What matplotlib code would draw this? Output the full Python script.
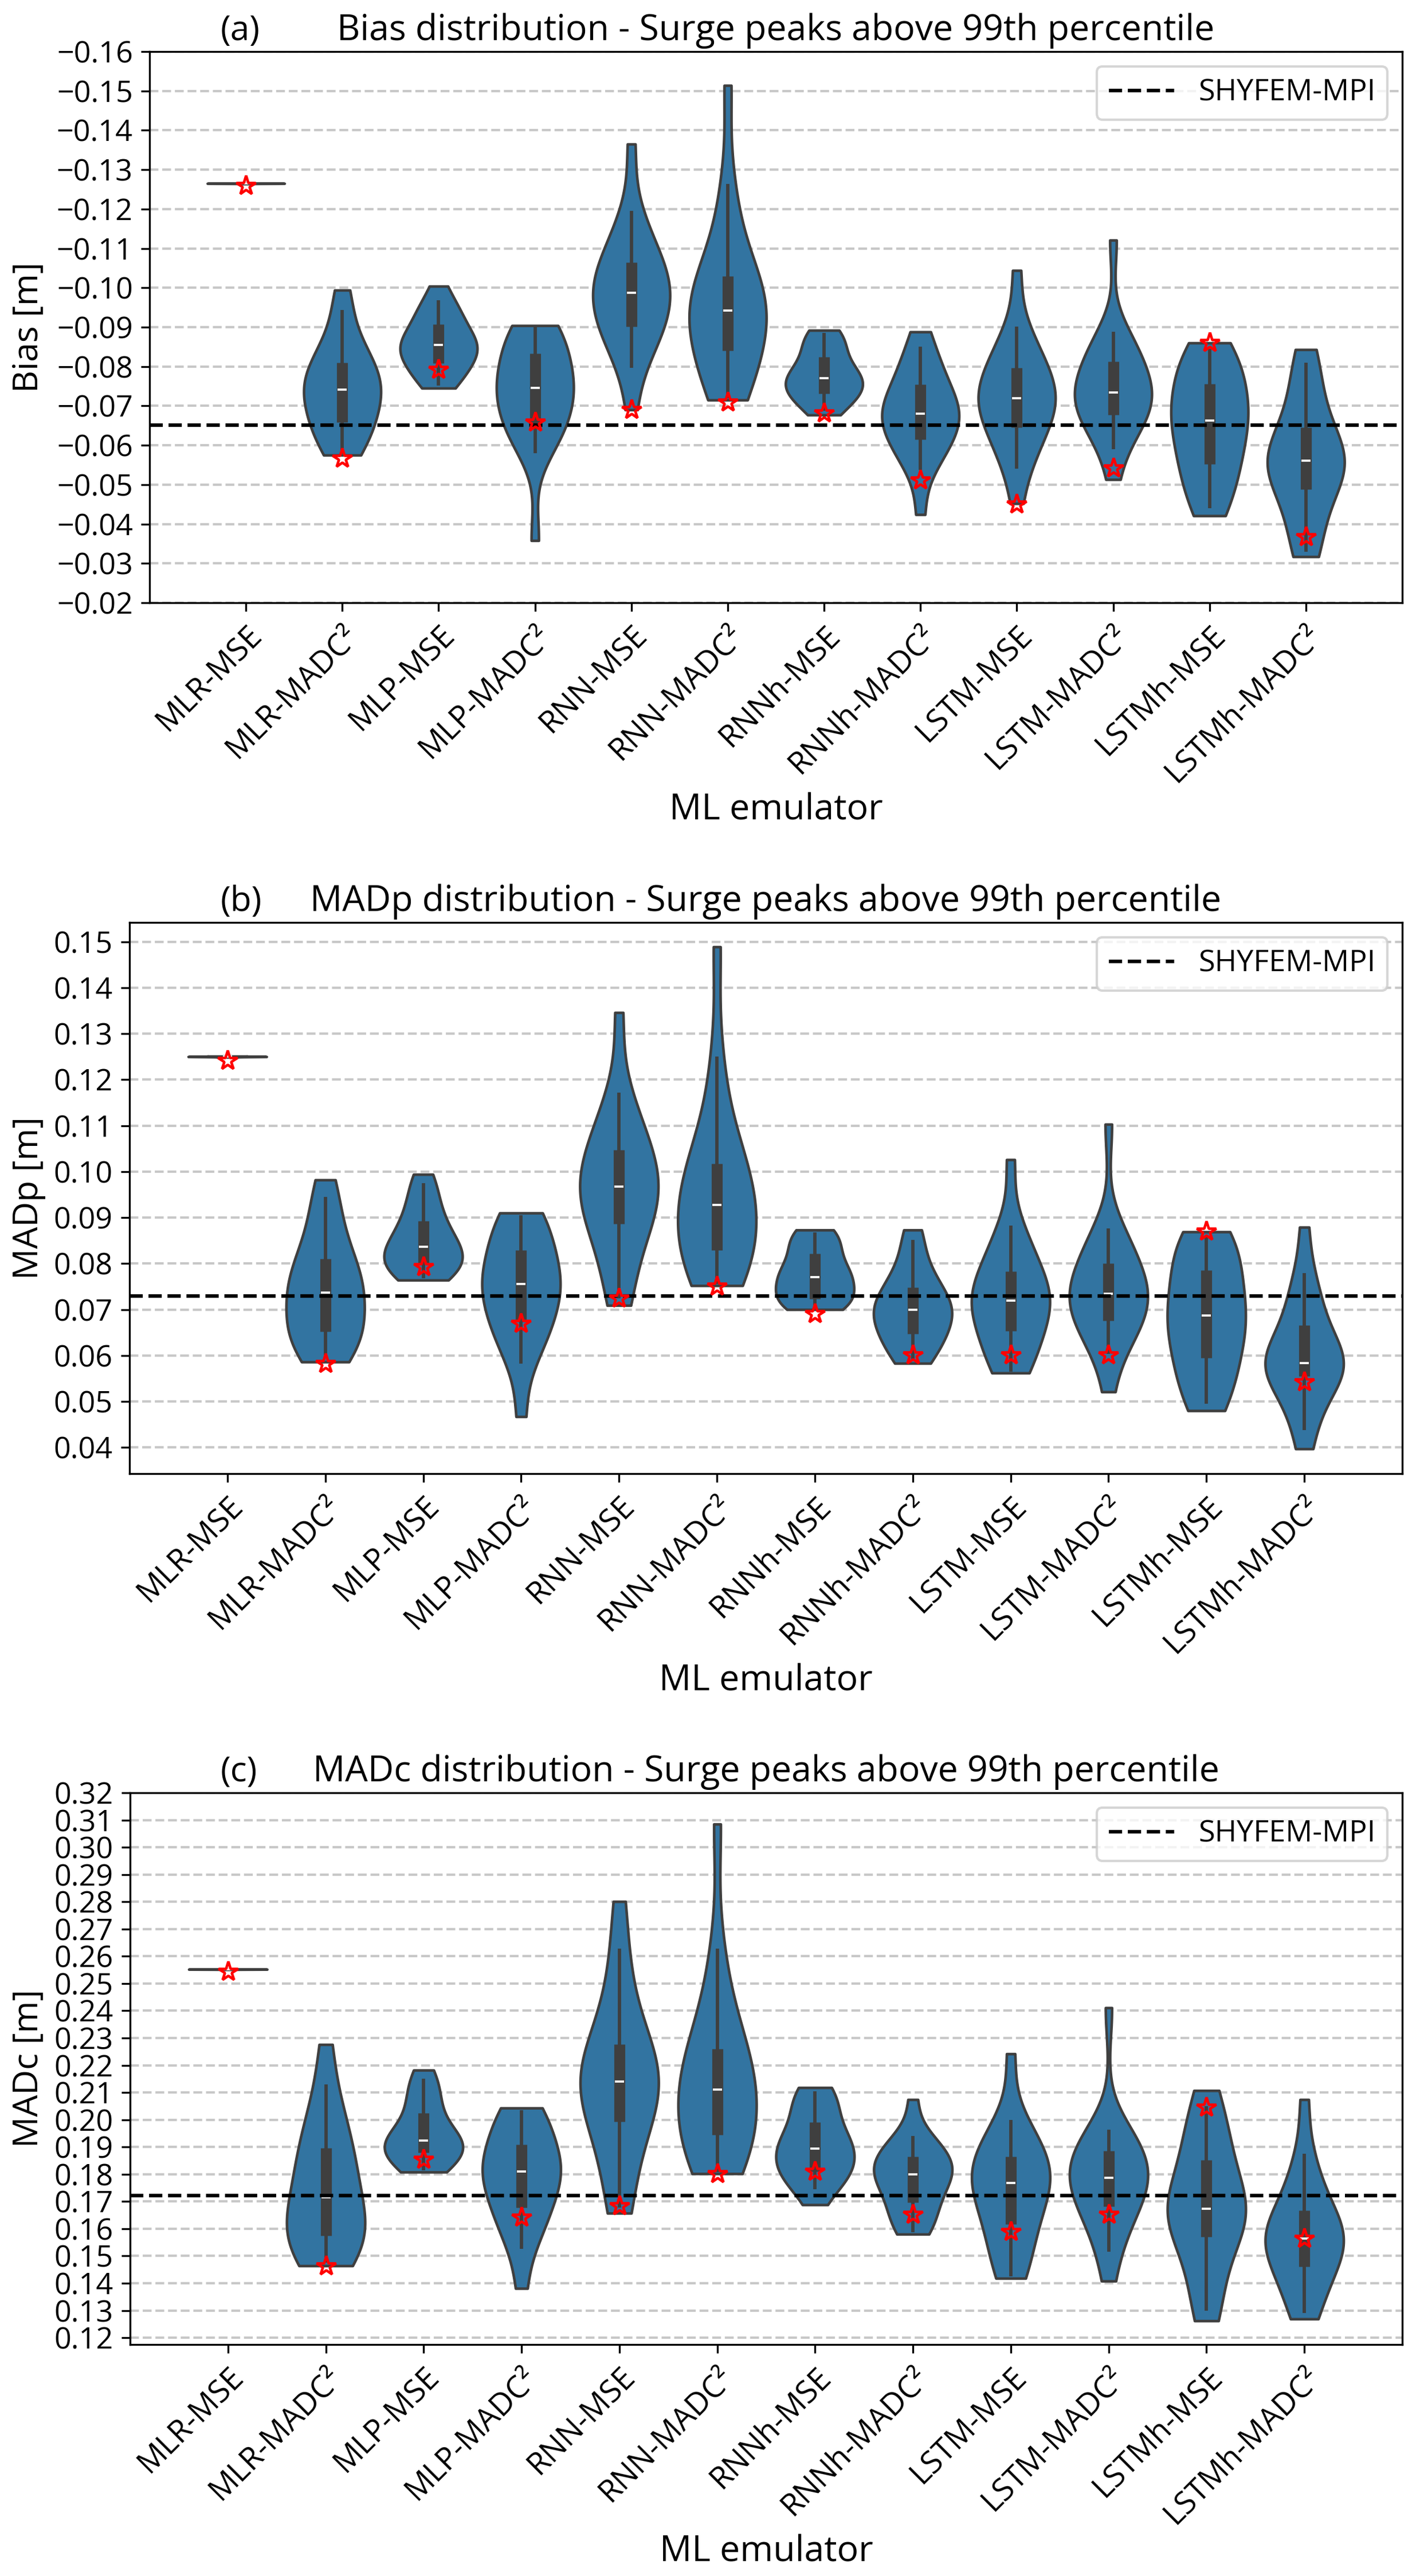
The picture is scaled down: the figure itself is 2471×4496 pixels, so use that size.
import numpy as np
import matplotlib
matplotlib.use('Agg')
import matplotlib.pyplot as plt
from matplotlib.ticker import FixedLocator, FuncFormatter

plt.rcParams['font.family'] = ['Open Sans', 'DejaVu Sans']

# ---------------- data ----------------
emulators = ['MLR-MSE', 'MLR-MADC²', 'MLP-MSE', 'MLP-MADC²', 'RNN-MSE', 'RNN-MADC²',
             'RNNh-MSE', 'RNNh-MADC²', 'LSTM-MSE', 'LSTM-MADC²', 'LSTMh-MSE', 'LSTMh-MADC²']

# (a) Bias [m] samples per emulator
bias_mlr_mse = [-0.1264, -0.1264, -0.1264, -0.1265, -0.1265, -0.1265, -0.1265, -0.1265, -0.1265, -0.1265, -0.1265,
                -0.1265, -0.1265, -0.1265, -0.1265, -0.1265, -0.1265, -0.1265, -0.1266, -0.1266, -0.1266]
bias_mlr_madc = [-0.0575, -0.0578, -0.0610, -0.0635, -0.0650, -0.0659, -0.0680, -0.0700, -0.0715, -0.0730, -0.0742,
                 -0.0752, -0.0765, -0.0778, -0.0792, -0.0810, -0.0830, -0.0850, -0.0880, -0.0943, -0.0994]
bias_mlp_mse = [-0.0745, -0.0752, -0.0772, -0.0788, -0.0800, -0.0808, -0.0820, -0.0830, -0.0838, -0.0846, -0.0855,
                -0.0862, -0.0869, -0.0877, -0.0890, -0.0908, -0.0920, -0.0935, -0.0950, -0.0968, -0.1004]
bias_mlp_madc = [-0.0358, -0.0580, -0.0610, -0.0630, -0.0645, -0.0657, -0.0680, -0.0700, -0.0720, -0.0735, -0.0746,
                 -0.0758, -0.0770, -0.0782, -0.0800, -0.0833, -0.0855, -0.0870, -0.0885, -0.0900, -0.0904]
bias_rnn_mse = [-0.0690, -0.0797, -0.0840, -0.0865, -0.0885, -0.0902, -0.0920, -0.0940, -0.0955, -0.0970, -0.0988,
                -0.1000, -0.1015, -0.1030, -0.1045, -0.1065, -0.1085, -0.1110, -0.1150, -0.1195, -0.1365]
bias_rnn_madc = [-0.0715, -0.0720, -0.0750, -0.0790, -0.0815, -0.0841, -0.0865, -0.0885, -0.0905, -0.0925, -0.0942,
                 -0.0958, -0.0972, -0.0990, -0.1008, -0.1029, -0.1060, -0.1100, -0.1180, -0.1264, -0.1514]
bias_rnnh_mse = [-0.0677, -0.0688, -0.0708, -0.0717, -0.0725, -0.0731, -0.0740, -0.0750, -0.0758, -0.0764, -0.0770,
                 -0.0776, -0.0784, -0.0795, -0.0808, -0.0824, -0.0840, -0.0855, -0.0870, -0.0885, -0.0892]
bias_rnnh_madc = [-0.0424, -0.0537, -0.0565, -0.0585, -0.0600, -0.0615, -0.0635, -0.0650, -0.0662, -0.0672, -0.0680,
                  -0.0690, -0.0700, -0.0712, -0.0730, -0.0754, -0.0770, -0.0790, -0.0815, -0.0850, -0.0888]
bias_lstm_mse = [-0.0452, -0.0541, -0.0575, -0.0600, -0.0625, -0.0645, -0.0665, -0.0685, -0.0700, -0.0710, -0.0719,
                 -0.0728, -0.0740, -0.0755, -0.0775, -0.0796, -0.0815, -0.0835, -0.0860, -0.0902, -0.1044]
bias_lstm_madc = [-0.0513, -0.0590, -0.0625, -0.0645, -0.0662, -0.0677, -0.0690, -0.0703, -0.0714, -0.0724, -0.0734,
                  -0.0745, -0.0758, -0.0772, -0.0790, -0.0812, -0.0830, -0.0848, -0.0865, -0.0889, -0.1121]
bias_lstmh_mse = [-0.0421, -0.0440, -0.0480, -0.0510, -0.0535, -0.0552, -0.0580, -0.0605, -0.0625, -0.0645, -0.0663,
                  -0.0680, -0.0695, -0.0712, -0.0735, -0.0756, -0.0778, -0.0800, -0.0822, -0.0845, -0.0860]
bias_lstmh_madc = [-0.0317, -0.0330, -0.0375, -0.0420, -0.0460, -0.0488, -0.0510, -0.0528, -0.0542, -0.0552, -0.0561,
                   -0.0570, -0.0580, -0.0592, -0.0615, -0.0646, -0.0680, -0.0715, -0.0760, -0.0810, -0.0843]
bias_best = [-0.1259, -0.0567, -0.0792, -0.0659, -0.0690, -0.0710, -0.0682, -0.0511, -0.0450, -0.0542, -0.0861, -0.0368]
bias_shyfem = -0.0651

# (b) MADp [m]
madp_mlr_mse = [0.1249, 0.1249, 0.1249, 0.1250, 0.1250, 0.1250, 0.1250, 0.1250, 0.1250, 0.1250, 0.1250,
                0.1250, 0.1250, 0.1250, 0.1250, 0.1251, 0.1251, 0.1251, 0.1251, 0.1251, 0.1251]
madp_mlr_madc = [0.0586, 0.0595, 0.0615, 0.0630, 0.0642, 0.0652, 0.0668, 0.0685, 0.0705, 0.0722, 0.0737,
                 0.0750, 0.0762, 0.0775, 0.0792, 0.0810, 0.0835, 0.0865, 0.0900, 0.0945, 0.0982]
madp_mlp_mse = [0.0764, 0.0768, 0.0778, 0.0786, 0.0793, 0.0799, 0.0806, 0.0814, 0.0821, 0.0829, 0.0837,
                0.0845, 0.0855, 0.0866, 0.0879, 0.0893, 0.0910, 0.0928, 0.0948, 0.0975, 0.0994]
madp_mlp_madc = [0.0467, 0.0582, 0.0615, 0.0638, 0.0658, 0.0673, 0.0692, 0.0710, 0.0728, 0.0742, 0.0755,
                 0.0766, 0.0776, 0.0786, 0.0805, 0.0829, 0.0850, 0.0870, 0.0890, 0.0905, 0.0910]
madp_rnn_mse = [0.0709, 0.0724, 0.0790, 0.0830, 0.0862, 0.0887, 0.0905, 0.0920, 0.0935, 0.0950, 0.0967,
                0.0980, 0.0995, 0.1010, 0.1028, 0.1047, 0.1070, 0.1095, 0.1130, 0.1172, 0.1346]
madp_rnn_madc = [0.0752, 0.0755, 0.0775, 0.0795, 0.0812, 0.0829, 0.0850, 0.0868, 0.0885, 0.0905, 0.0927,
                 0.0945, 0.0962, 0.0980, 0.0998, 0.1017, 0.1045, 0.1085, 0.1150, 0.1250, 0.1489]
madp_rnnh_mse = [0.0700, 0.0704, 0.0710, 0.0716, 0.0720, 0.0723, 0.0735, 0.0748, 0.0758, 0.0765, 0.0771,
                 0.0777, 0.0784, 0.0793, 0.0806, 0.0821, 0.0835, 0.0848, 0.0858, 0.0868, 0.0873]
madp_rnnh_madc = [0.0583, 0.0590, 0.0610, 0.0625, 0.0637, 0.0647, 0.0660, 0.0672, 0.0683, 0.0692, 0.0699,
                  0.0706, 0.0713, 0.0722, 0.0733, 0.0748, 0.0765, 0.0782, 0.0805, 0.0851, 0.0873]
madp_lstm_mse = [0.0562, 0.0565, 0.0590, 0.0610, 0.0632, 0.0653, 0.0670, 0.0685, 0.0698, 0.0710, 0.0720,
                 0.0730, 0.0740, 0.0752, 0.0767, 0.0783, 0.0805, 0.0830, 0.0855, 0.0883, 0.1026]
madp_lstm_madc = [0.0521, 0.0603, 0.0630, 0.0648, 0.0663, 0.0676, 0.0690, 0.0704, 0.0716, 0.0726, 0.0734,
                  0.0743, 0.0752, 0.0762, 0.0778, 0.0801, 0.0820, 0.0838, 0.0855, 0.0876, 0.1103]
madp_lstmh_mse = [0.0480, 0.0495, 0.0520, 0.0550, 0.0575, 0.0595, 0.0615, 0.0635, 0.0655, 0.0672, 0.0687,
                  0.0702, 0.0718, 0.0735, 0.0760, 0.0785, 0.0805, 0.0825, 0.0845, 0.0862, 0.0869]
madp_lstmh_madc = [0.0397, 0.0438, 0.0480, 0.0510, 0.0535, 0.0555, 0.0565, 0.0572, 0.0577, 0.0581, 0.0584,
                   0.0590, 0.0600, 0.0615, 0.0638, 0.0666, 0.0690, 0.0715, 0.0745, 0.0779, 0.0879]
madp_best = [0.1242, 0.0582, 0.0793, 0.0670, 0.0724, 0.0750, 0.0691, 0.0601, 0.0601, 0.0601, 0.0870, 0.0542]
madp_shyfem = 0.0729

# (c) MADc [m]
madc_mlr_mse = [0.2551, 0.2551, 0.2551, 0.2552, 0.2552, 0.2552, 0.2552, 0.2552, 0.2552, 0.2552, 0.2552,
                0.2552, 0.2552, 0.2552, 0.2552, 0.2552, 0.2552, 0.2552, 0.2553, 0.2553, 0.2553]
madc_mlr_madc = [0.1464, 0.1475, 0.1505, 0.1530, 0.1555, 0.1574, 0.1598, 0.1620, 0.1645, 0.1675, 0.1715,
                 0.1750, 0.1785, 0.1820, 0.1860, 0.1896, 0.1935, 0.1980, 0.2040, 0.2130, 0.2276]
madc_mlp_mse = [0.1808, 0.1815, 0.1830, 0.1845, 0.1862, 0.1880, 0.1890, 0.1898, 0.1905, 0.1914, 0.1923,
                0.1935, 0.1950, 0.1968, 0.1995, 0.2024, 0.2055, 0.2085, 0.2115, 0.2150, 0.2182]
madc_mlp_madc = [0.1381, 0.1526, 0.1575, 0.1615, 0.1650, 0.1678, 0.1708, 0.1735, 0.1760, 0.1788, 0.1809,
                 0.1825, 0.1840, 0.1852, 0.1875, 0.1908, 0.1945, 0.1980, 0.2010, 0.2035, 0.2043]
madc_rnn_mse = [0.1657, 0.1678, 0.1800, 0.1880, 0.1945, 0.1993, 0.2030, 0.2065, 0.2095, 0.2120, 0.2141,
                0.2160, 0.2182, 0.2205, 0.2240, 0.2276, 0.2330, 0.2400, 0.2500, 0.2629, 0.2801]
madc_rnn_madc = [0.1802, 0.1808, 0.1840, 0.1880, 0.1915, 0.1944, 0.1975, 0.2005, 0.2035, 0.2070, 0.2111,
                 0.2140, 0.2170, 0.2200, 0.2230, 0.2259, 0.2310, 0.2380, 0.2480, 0.2629, 0.3085]
madc_rnnh_mse = [0.1688, 0.1745, 0.1770, 0.1785, 0.1798, 0.1811, 0.1830, 0.1850, 0.1866, 0.1880, 0.1894,
                 0.1908, 0.1922, 0.1940, 0.1962, 0.1991, 0.2025, 0.2055, 0.2080, 0.2105, 0.2118]
madc_rnnh_madc = [0.1580, 0.1588, 0.1620, 0.1650, 0.1675, 0.1696, 0.1725, 0.1750, 0.1770, 0.1787, 0.1800,
                  0.1810, 0.1820, 0.1832, 0.1847, 0.1865, 0.1885, 0.1903, 0.1920, 0.1941, 0.2074]
madc_lstm_mse = [0.1418, 0.1425, 0.1490, 0.1540, 0.1585, 0.1616, 0.1650, 0.1690, 0.1720, 0.1748, 0.1767,
                 0.1782, 0.1800, 0.1818, 0.1840, 0.1865, 0.1892, 0.1920, 0.1955, 0.1999, 0.2242]
madc_lstm_madc = [0.1408, 0.1516, 0.1575, 0.1620, 0.1655, 0.1682, 0.1710, 0.1735, 0.1755, 0.1772, 0.1786,
                  0.1800, 0.1815, 0.1830, 0.1855, 0.1885, 0.1905, 0.1925, 0.1945, 0.1964, 0.2411]
madc_lstmh_mse = [0.1262, 0.1300, 0.1380, 0.1450, 0.1520, 0.1570, 0.1600, 0.1625, 0.1645, 0.1660, 0.1673,
                  0.1690, 0.1715, 0.1745, 0.1800, 0.1852, 0.1890, 0.1930, 0.1985, 0.2050, 0.2107]
madc_lstmh_madc = [0.1269, 0.1290, 0.1350, 0.1400, 0.1435, 0.1460, 0.1490, 0.1515, 0.1535, 0.1550, 0.1565,
                   0.1580, 0.1595, 0.1610, 0.1635, 0.1667, 0.1705, 0.1750, 0.1810, 0.1875, 0.2074]
madc_best = [0.2544, 0.1464, 0.1854, 0.1642, 0.1684, 0.1802, 0.1811, 0.1653, 0.1590, 0.1653, 0.2045, 0.1564]
madc_shyfem = 0.1722

bias_ticks = [-0.16, -0.15, -0.14, -0.13, -0.12, -0.11, -0.10, -0.09, -0.08, -0.07, -0.06, -0.05, -0.04, -0.03, -0.02]
madp_ticks = [0.04, 0.05, 0.06, 0.07, 0.08, 0.09, 0.10, 0.11, 0.12, 0.13, 0.14, 0.15]
madc_ticks = [0.12, 0.13, 0.14, 0.15, 0.16, 0.17, 0.18, 0.19, 0.20, 0.21, 0.22, 0.23, 0.24, 0.25, 0.26,
              0.27, 0.28, 0.29, 0.30, 0.31, 0.32]

panels = [
    dict(letter='(a)', title='Bias distribution - Surge peaks above 99th percentile', ylabel='Bias [m]',
         samples=[bias_mlr_mse, bias_mlr_madc, bias_mlp_mse, bias_mlp_madc, bias_rnn_mse, bias_rnn_madc,
                  bias_rnnh_mse, bias_rnnh_madc, bias_lstm_mse, bias_lstm_madc, bias_lstmh_mse, bias_lstmh_madc],
         best=bias_best, ref=bias_shyfem, ticks=bias_ticks, ylim=(-0.02, -0.16),
         px=(261, 2447, 90, 1052)),
    dict(letter='(b)', title='MADp distribution - Surge peaks above 99th percentile', ylabel='MADp [m]',
         samples=[madp_mlr_mse, madp_mlr_madc, madp_mlp_mse, madp_mlp_madc, madp_rnn_mse, madp_rnn_madc,
                  madp_rnnh_mse, madp_rnnh_madc, madp_lstm_mse, madp_lstm_madc, madp_lstmh_mse, madp_lstmh_madc],
         best=madp_best, ref=madp_shyfem, ticks=madp_ticks, ylim=(0.0343, 0.1542),
         px=(226, 2447, 1610, 2572)),
    dict(letter='(c)', title='MADc distribution - Surge peaks above 99th percentile', ylabel='MADc [m]',
         samples=[madc_mlr_mse, madc_mlr_madc, madc_mlp_mse, madc_mlp_madc, madc_rnn_mse, madc_rnn_madc,
                  madc_rnnh_mse, madc_rnnh_madc, madc_lstm_mse, madc_lstm_madc, madc_lstmh_mse, madc_lstmh_madc],
         best=madc_best, ref=madc_shyfem, ticks=madc_ticks, ylim=(0.1175, 0.3200),
         px=(227, 2447, 3129, 4092)),
]

# ---------------- figure ----------------
W, H, DPI = 2471, 4496, 300
fig = plt.figure(figsize=(W / DPI, H / DPI), dpi=DPI)
fig.patch.set_facecolor('white')

VIOLIN = '#3274a1'
EDGE = '#3f3f3f'
fmt = FuncFormatter(lambda v, p: f'{v:.2f}'.replace('-', '\u2212'))

for P in panels:
    l, r, t, b = P['px']
    ax = fig.add_axes([l / W, 1 - b / H, (r - l) / W, (b - t) / H])
    pos = np.arange(len(emulators))

    parts = ax.violinplot(P['samples'], positions=pos, widths=0.8, showextrema=False,
                          showmeans=False, showmedians=False, points=300)
    for body in parts['bodies']:
        body.set_facecolor(VIOLIN)
        body.set_edgecolor(EDGE)
        body.set_alpha(1)
        body.set_linewidth(1.1)
        body.set_zorder(2)

    for i, s in enumerate(P['samples']):
        q1, med, q3 = np.percentile(s, [25, 50, 75])
        wlo, whi = np.percentile(s, [5, 95])
        ax.vlines(i, wlo, whi, color=EDGE, lw=1.4, zorder=3)
        ax.vlines(i, q1, q3, color=EDGE, lw=4.6, zorder=3)
        ax.plot(i, med, marker='_', ms=3.8, mew=0.9, color='white', zorder=3.5)

    ax.plot(pos, P['best'], ls='none', marker='*', ms=8.5, mfc='none', mec='red', mew=1.1, zorder=6)
    ax.axhline(P['ref'], color='black', ls='--', lw=1.5, zorder=5, label='SHYFEM-MPI')

    ax.set_xlim(-1, 12)
    ax.set_ylim(*P['ylim'])
    ax.yaxis.set_major_locator(FixedLocator(P['ticks']))
    ax.yaxis.set_major_formatter(fmt)
    ax.set_xticks(pos)
    ax.set_xticklabels(emulators, rotation=45, ha='right', rotation_mode='anchor', fontsize=13)
    ax.tick_params(axis='y', labelsize=12.5)
    ax.set_axisbelow(True)
    ax.yaxis.grid(True, linestyle='--', color='#c8c8c8', linewidth=1.0)

    ax.set_title(P['title'], fontsize=15, pad=4.8)
    ax.text((385 - l) / (r - l), 1 + 20 / (b - t), P['letter'], transform=ax.transAxes,
            fontsize=14.5, ha='left', va='baseline')

    fig.text(50 / W, 1 - (t + b) / 2 / H, P['ylabel'], rotation=90, ha='center', va='center', fontsize=14.5)
    fig.text((l + r) / 2 / W, 1 - (b + 362) / H, 'ML emulator', ha='center', va='center', fontsize=15)

    ax.legend(loc='upper right', fontsize=12.5, handlelength=2.2)

fig.savefig('out.png', dpi=DPI, facecolor='white')
